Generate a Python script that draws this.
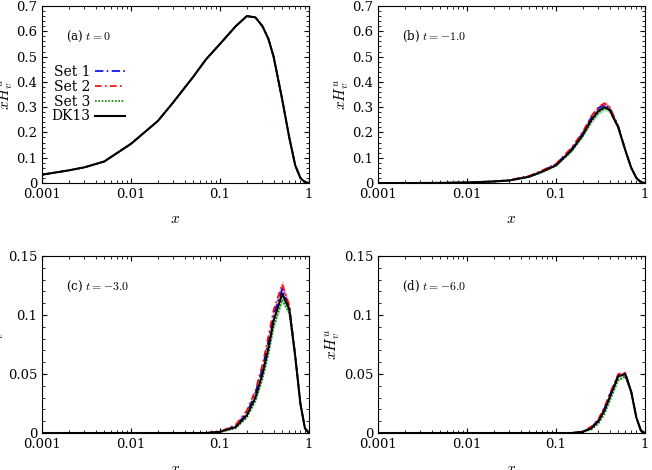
import numpy as np, pandas as pd, seaborn as sns, matplotlib
matplotlib.use("Agg")
import matplotlib.pyplot as plt
from matplotlib.ticker import FixedLocator, FixedFormatter, AutoMinorLocator

plt.rcParams.update({"font.family": "serif", "font.serif": ["DejaVu Serif"], "mathtext.fontset": "cm",
                     "font.size": 9, "xtick.direction": "in", "ytick.direction": "in",
                     "xtick.top": True, "ytick.right": True})

x = [0.001,0.002,0.003,0.005,0.01,0.02,0.03,0.05,0.07,0.1,0.15,0.2,0.25,0.3,0.35,0.4,0.5,0.6,0.7,0.8,0.9,1.0]
dk_a = [0.033,0.05,0.062,0.085,0.155,0.245,0.32,0.42,0.49,0.55,0.62,0.66,0.655,0.62,0.57,0.5,0.33,0.18,0.07,0.02,0.003,0.0]
dk_b = [0,0,0,0.0005,0.002,0.006,0.01,0.025,0.045,0.07,0.13,0.19,0.25,0.285,0.30,0.29,0.22,0.13,0.06,0.02,0.003,0.0]
s1_b = [0,0,0,0.0005,0.002,0.006,0.011,0.027,0.048,0.074,0.136,0.198,0.26,0.296,0.31,0.298,0.225,0.132,0.06,0.02,0.003,0.0]
s2_b = [0,0,0,0.0005,0.002,0.007,0.012,0.028,0.05,0.076,0.14,0.203,0.265,0.30,0.315,0.30,0.225,0.13,0.06,0.02,0.003,0.0]
s3_b = [0,0,0,0.0005,0.002,0.006,0.01,0.024,0.043,0.068,0.126,0.185,0.243,0.278,0.295,0.287,0.22,0.13,0.06,0.02,0.003,0.0]
dk_c = [0,0,0,0,0,0,0,0,0,0.001,0.005,0.015,0.03,0.05,0.072,0.095,0.118,0.105,0.065,0.025,0.004,0.0]
s1_c = [0,0,0,0,0,0,0,0,0,0.001,0.006,0.017,0.034,0.055,0.078,0.1,0.122,0.107,0.066,0.025,0.004,0.0]
s2_c = [0,0,0,0,0,0,0,0,0,0.0012,0.007,0.019,0.036,0.058,0.082,0.104,0.126,0.108,0.066,0.025,0.004,0.0]
s3_c = [0,0,0,0,0,0,0,0,0,0.0008,0.004,0.013,0.027,0.046,0.067,0.09,0.113,0.102,0.064,0.025,0.004,0.0]
dk_d = [0,0,0,0,0,0,0,0,0,0,0,0.001,0.004,0.01,0.019,0.03,0.048,0.050,0.035,0.013,0.002,0.0]
s1_d = [0,0,0,0,0,0,0,0,0,0,0,0.0012,0.005,0.011,0.021,0.032,0.049,0.050,0.035,0.013,0.002,0.0]
s2_d = [0,0,0,0,0,0,0,0,0,0,0,0.0014,0.0055,0.012,0.022,0.033,0.050,0.051,0.035,0.013,0.002,0.0]
s3_d = [0,0,0,0,0,0,0,0,0,0,0,0.0008,0.003,0.008,0.016,0.027,0.045,0.048,0.034,0.013,0.002,0.0]

panels = [("(a) $t=0$", dk_a, dk_a, dk_a, dk_a, 0.7, 0.1),
          ("(b) $t=-1.0$", dk_b, s1_b, s2_b, s3_b, 0.7, 0.1),
          ("(c) $t=-3.0$", dk_c, s1_c, s2_c, s3_c, 0.15, 0.05),
          ("(d) $t=-6.0$", dk_d, s1_d, s2_d, s3_d, 0.15, 0.05)]
rects = [(42,6),(378,6),(42,256),(378,256)]
W, H = 652, 470
fig = plt.figure(figsize=(6.52, 4.70), dpi=100)
for i, ((title, dk, s1, s2, s3, ymax, ystep), (l, t)) in enumerate(zip(panels, rects)):
    ax = fig.add_axes([l/W, 1-(t+177)/H, 267/W, 177/H])
    sets = [("Set 1", s1, "blue", (0,(5,2,1,2)), "#9999ff"),
            ("Set 2", s2, "red", (0,(4,2,1,2)), "#ff9999"),
            ("Set 3", s3, "green", (0,(1,1)), "#88cc88")]
    for name, s, c, ls, fc in sets:
        s = np.array(s)
        if i > 0:
            ax.fill_between(x, s*0.97, s*1.03, color=fc, alpha=0.6, lw=0)
        sns.lineplot(x=x, y=s, ax=ax, color=c, lw=1.2, linestyle=ls, label=name)
    sns.lineplot(x=x, y=dk, ax=ax, color="black", lw=1.5, label="DK13")
    ax.set_xscale("log")
    ax.set_xlim(0.001, 1); ax.set_ylim(0, ymax)
    ax.set_xticks([0.001,0.01,0.1,1]); ax.set_xticklabels(["0.001","0.01","0.1","1"])
    ticks = np.round(np.arange(0, ymax+1e-9, ystep), 3)
    ax.yaxis.set_major_locator(FixedLocator(ticks))
    ax.yaxis.set_major_formatter(FixedFormatter([f"{v:g}" for v in ticks]))
    ax.yaxis.set_minor_locator(AutoMinorLocator(5))
    ax.tick_params(labelsize=9.5)
    ax.set_xlabel("$x$", fontsize=11, labelpad=8)
    ax.set_ylabel("$xH_v^u$", fontsize=11, labelpad=1)
    ax.text(0.09, 0.81, title, transform=ax.transAxes, fontsize=8.5)
    if i == 0:
        ax.legend(loc="upper left", bbox_to_anchor=(0.0, 0.72), frameon=False, markerfirst=False,
                  handlelength=2.2, labelspacing=0.05, fontsize=10, borderpad=0.2, handletextpad=0.3)
    else:
        ax.get_legend().remove()
fig.savefig("out.png", dpi=100)
